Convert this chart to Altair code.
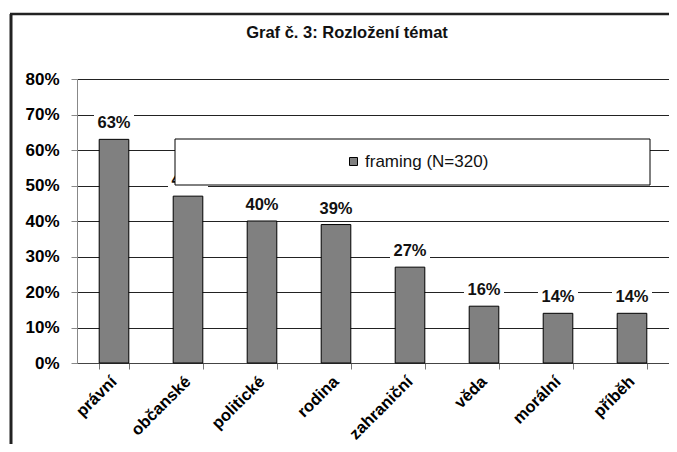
import altair as alt
import pandas as pd

# ---- data ----
categories = ["právní", "občanské", "politické", "rodina", "zahraniční", "věda", "morální", "příběh"]
values = [0.63, 0.47, 0.40, 0.39, 0.27, 0.16, 0.14, 0.14]
series_name = "framing (N=320)"
y_ticks = [0.0, 0.1, 0.2, 0.3, 0.4, 0.5, 0.6, 0.7, 0.8]
title_text = "Graf č. 3: Rozložení témat"

df = pd.DataFrame({"tema": categories, "podil": values, "serie": [series_name] * len(categories)})

FONT = "Liberation Sans"

x_axis = alt.Axis(
    labelAngle=-45,
    labelAlign="right",
    labelBaseline="top",
    labelFont=FONT,
    labelFontSize=16.5,
    labelFontWeight="bold",
    labelColor="#000000",
    labelPadding=4,
    labelOffset=-6,
    labelOverlap=False,
    tickBand="extent",
    tickColor="#777777",
    tickSize=6,
    domainColor="#444444",
    grid=False,
)
y_axis = alt.Axis(
    values=y_ticks,
    tickCount=9,
    format=".0%",
    labelOverlap=False,
    grid=True,
    gridColor="#222222",
    gridOpacity=1,
    domainColor="#888888",
    tickColor="#888888",
    tickSize=6,
    labelPadding=12,
    labelFont=FONT,
    labelFontSize=17,
    labelFontWeight="bold",
    labelColor="#000000",
)

x_enc = alt.X("tema:N", sort=categories, title=None,
              scale=alt.Scale(paddingInner=0.6, paddingOuter=0.3), axis=x_axis)
y_enc = alt.Y("podil:Q", title=None,
              scale=alt.Scale(domain=[0, 0.8], nice=False, zero=True), axis=y_axis)

base = alt.Chart(df)

bars = base.mark_bar(stroke="black", strokeWidth=1).encode(
    x=x_enc,
    y=y_enc,
    color=alt.Color(
        "serie:N",
        scale=alt.Scale(range=["#808080"]),
        legend=alt.Legend(
            orient="none",
            legendX=268,
            legendY=74,
            title=None,
            padding=0,
            symbolType="square",
            symbolSize=64,
            symbolStrokeColor="black",
            symbolStrokeWidth=1,
            labelFont=FONT,
            labelFontSize=17,
            labelColor="#111111",
            labelOffset=3,
        ),
    ),
)

label_bg = base.mark_point(
    shape="M-1,-0.4H1V0.4H-1Z",
    size=1600,
    filled=True,
    fill="white",
    opacity=1,
    strokeWidth=0,
    yOffset=-17,
).encode(x=x_enc, y=y_enc)

labels = base.mark_text(
    dy=-11,
    baseline="alphabetic",
    font=FONT,
    fontSize=16.5,
    fontWeight="bold",
    color="#111111",
).encode(
    x=x_enc,
    y=y_enc,
    text=alt.Text("podil:Q", format=".0%"),
)

one = alt.Data(values=[{"t": title_text}])

title_mark = alt.Chart(one).mark_text(
    font=FONT,
    fontSize=16.5,
    fontWeight="bold",
    color="#111111",
    align="center",
    baseline="alphabetic",
).encode(x=alt.value(270), y=alt.value(-41), text="t:N")

legend_box = alt.Chart(one).mark_rect(
    fill="white", stroke="black", strokeWidth=1
).encode(x=alt.value(98), x2=alt.value(573), y=alt.value(60), y2=alt.value(106))

frame_left = alt.Chart(one).mark_rule(
    color="#222222", strokeWidth=3
).encode(x=alt.value(-66), y=alt.value(-65), y2=alt.value(400))

frame_top = alt.Chart(one).mark_rule(
    color="#222222", strokeWidth=2.5
).encode(y=alt.value(-65), x=alt.value(-67), x2=alt.value(700))

chart = (
    alt.layer(bars, label_bg, labels, legend_box, title_mark, frame_left, frame_top)
    .properties(
        width=592,
        height=284,
        autosize=alt.AutoSizeParams(type="none"),
        padding={"left": 69, "top": 71, "right": 0, "bottom": 81},
        background="white",
    )
    .configure_view(stroke=None)
)

chart.save("out.html", embed_options={"renderer": "svg", "actions": False})
